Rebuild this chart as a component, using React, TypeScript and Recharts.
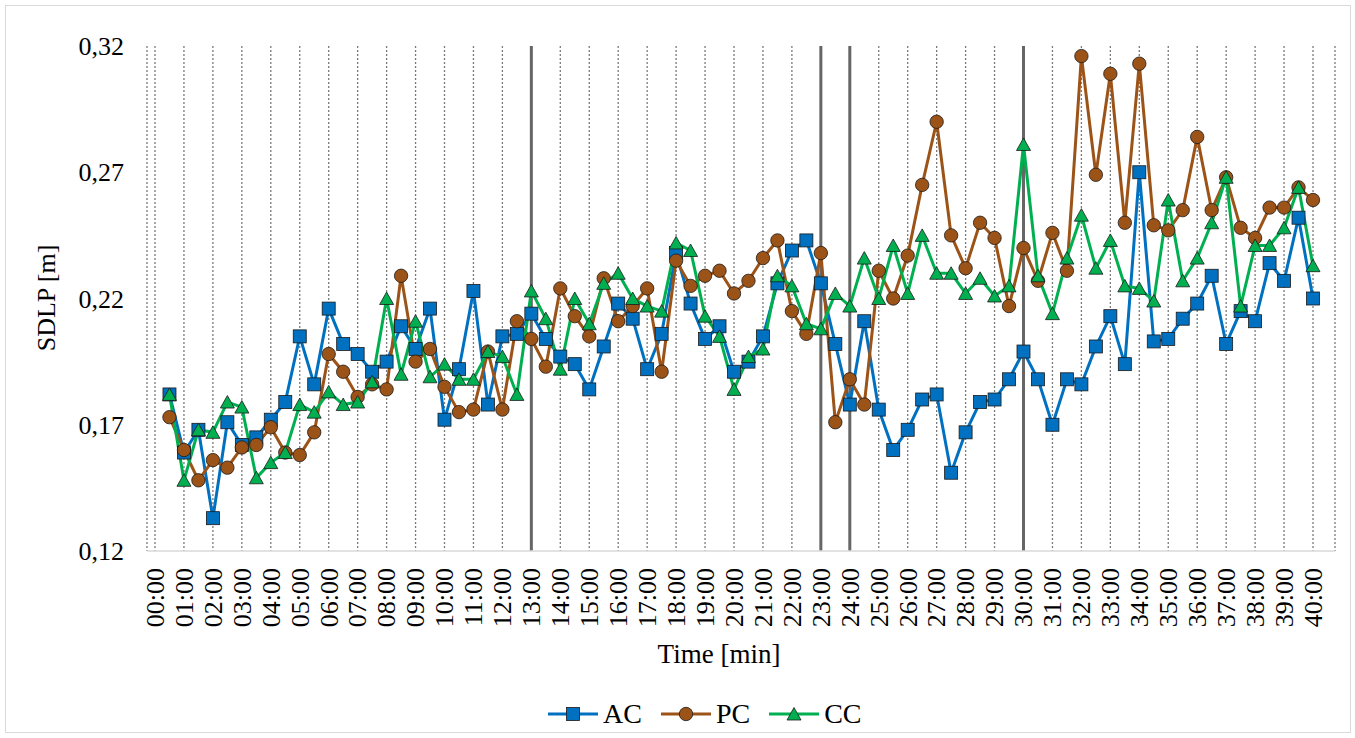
import React from 'react'
import { LineChart, Line, XAxis, YAxis, CartesianGrid, ReferenceLine, Legend } from 'recharts'

const FONT = '"Liberation Serif", "Times New Roman", serif'

// sample times, every 30 s
const times = [
  '00:30', '01:00', '01:30', '02:00', '02:30', '03:00', '03:30', '04:00', '04:30', '05:00',
  '05:30', '06:00', '06:30', '07:00', '07:30', '08:00', '08:30', '09:00', '09:30', '10:00',
  '10:30', '11:00', '11:30', '12:00', '12:30', '13:00', '13:30', '14:00', '14:30', '15:00',
  '15:30', '16:00', '16:30', '17:00', '17:30', '18:00', '18:30', '19:00', '19:30', '20:00',
  '20:30', '21:00', '21:30', '22:00', '22:30', '23:00', '23:30', '24:00', '24:30', '25:00',
  '25:30', '26:00', '26:30', '27:00', '27:30', '28:00', '28:30', '29:00', '29:30', '30:00',
  '30:30', '31:00', '31:30', '32:00', '32:30', '33:00', '33:30', '34:00', '34:30', '35:00',
  '35:30', '36:00', '36:30', '37:00', '37:30', '38:00', '38:30', '39:00', '39:30', '40:00',
]

const tickLabels = [
  '00:00', '01:00', '02:00', '03:00', '04:00', '05:00', '06:00', '07:00', '08:00', '09:00',
  '10:00', '11:00', '12:00', '13:00', '14:00', '15:00', '16:00', '17:00', '18:00', '19:00',
  '20:00', '21:00', '22:00', '23:00', '24:00', '25:00', '26:00', '27:00', '28:00', '29:00',
  '30:00', '31:00', '32:00', '33:00', '34:00', '35:00', '36:00', '37:00', '38:00', '39:00',
  '40:00',
]

const acValues = [
  0.182, 0.159, 0.168, 0.133, 0.171, 0.162, 0.165, 0.172, 0.179, 0.205,
  0.186, 0.216, 0.202, 0.198, 0.191, 0.195, 0.209, 0.200, 0.216, 0.172,
  0.192, 0.223, 0.178, 0.205, 0.206, 0.214, 0.204, 0.197, 0.194, 0.184,
  0.201, 0.218, 0.212, 0.192, 0.206, 0.238, 0.218, 0.204, 0.209, 0.191,
  0.195, 0.205, 0.226, 0.239, 0.243, 0.226, 0.202, 0.178, 0.211, 0.176,
  0.160, 0.168, 0.180, 0.182, 0.151, 0.167, 0.179, 0.180, 0.188, 0.199,
  0.188, 0.170, 0.188, 0.186, 0.201, 0.213, 0.194, 0.270, 0.203, 0.204,
  0.212, 0.218, 0.229, 0.202, 0.215, 0.211, 0.234, 0.227, 0.252, 0.220,
]

const pcValues = [
  0.173, 0.160, 0.148, 0.156, 0.153, 0.161, 0.162, 0.169, 0.159, 0.158,
  0.167, 0.198, 0.191, 0.181, 0.186, 0.184, 0.229, 0.195, 0.200, 0.185,
  0.175, 0.176, 0.199, 0.176, 0.211, 0.204, 0.193, 0.224, 0.213, 0.205,
  0.228, 0.211, 0.217, 0.224, 0.191, 0.235, 0.225, 0.229, 0.231, 0.222,
  0.227, 0.236, 0.243, 0.215, 0.206, 0.238, 0.171, 0.188, 0.178, 0.231,
  0.220, 0.237, 0.265, 0.290, 0.245, 0.232, 0.250, 0.244, 0.217, 0.240,
  0.227, 0.246, 0.231, 0.316, 0.269, 0.309, 0.250, 0.313, 0.249, 0.247,
  0.255, 0.284, 0.255, 0.268, 0.248, 0.244, 0.256, 0.256, 0.264, 0.259,
]

const ccValues = [
  0.182, 0.148, 0.168, 0.167, 0.179, 0.177, 0.149, 0.155, 0.159, 0.178,
  0.175, 0.183, 0.178, 0.179, 0.187, 0.220, 0.190, 0.211, 0.189, 0.194,
  0.188, 0.188, 0.199, 0.197, 0.182, 0.223, 0.212, 0.192, 0.220, 0.210,
  0.226, 0.230, 0.220, 0.217, 0.215, 0.242, 0.239, 0.213, 0.205, 0.184,
  0.197, 0.200, 0.229, 0.225, 0.210, 0.208, 0.222, 0.217, 0.236, 0.220,
  0.241, 0.222, 0.245, 0.230, 0.230, 0.222, 0.228, 0.221, 0.225, 0.281,
  0.229, 0.214, 0.236, 0.253, 0.232, 0.243, 0.225, 0.224, 0.219, 0.259,
  0.227, 0.236, 0.250, 0.268, 0.217, 0.241, 0.241, 0.248, 0.264, 0.233,
]

const phaseMarks = ['13:00', '23:00', '24:00', '30:00']
const yTicks = [0.12, 0.17, 0.22, 0.27, 0.32]

const toMinutes = (t: string) => {
  const [m, s] = t.split(':').map(Number)
  return m + s / 60
}

const tickValues = tickLabels.map(toMinutes)

const data = times.map((t, i) => ({
  min: toMinutes(t),
  AC: acValues[i],
  PC: pcValues[i],
  CC: ccValues[i],
}))

type Shape = 'square' | 'circle' | 'triangle'

const series: { key: string; color: string; shape: Shape }[] = [
  { key: 'AC', color: '#0070C0', shape: 'square' },
  { key: 'PC', color: '#9C5318', shape: 'circle' },
  { key: 'CC', color: '#00B050', shape: 'triangle' },
]

function Marker({ cx, cy, shape, color }: { cx: number; cy: number; shape: Shape; color: string }) {
  if (cx == null || cy == null) return null
  if (shape === 'square') {
    return <rect x={cx - 6.5} y={cy - 6.5} width={13} height={13} fill={color} stroke="#1a1a1a" strokeWidth={0.8} />
  }
  if (shape === 'circle') {
    return <circle cx={cx} cy={cy} r={6.7} fill={color} stroke="#1a1a1a" strokeWidth={0.8} />
  }
  return (
    <polygon
      points={`${cx},${cy - 6.5} ${cx + 7},${cy + 6} ${cx - 7},${cy + 6}`}
      fill={color}
      stroke="#1a1a1a"
      strokeWidth={0.8}
    />
  )
}

function XTick(props: any) {
  const { x, y, payload } = props
  const label = tickLabels[tickValues.indexOf(payload.value)]
  return (
    <text
      transform={`translate(${x},${y}) rotate(-90)`}
      textAnchor="end"
      dy="0.34em"
      fill="#000"
      fontFamily={FONT}
      fontSize={26}
    >
      {label}
    </text>
  )
}

function XTitle() {
  return (
    <text x={719} y={663} textAnchor="middle" fill="#000" fontFamily={FONT} fontSize={27}>
      Time [min]
    </text>
  )
}

function YTitle() {
  return (
    <text
      transform="translate(46,298) rotate(-90)"
      textAnchor="middle"
      dy="0.34em"
      fill="#000"
      fontFamily={FONT}
      fontSize={26}
    >
      SDLP [m]
    </text>
  )
}

function LegendBox() {
  return (
    <div
      style={{
        display: 'flex',
        alignItems: 'center',
        height: 36,
        paddingLeft: 548,
        fontFamily: FONT,
        fontSize: 28,
        color: '#000',
      }}
    >
      {series.map((s) => (
        <div key={s.key} style={{ display: 'flex', alignItems: 'center', marginRight: 19 }}>
          <svg width={50} height={20}>
            <line x1={0} x2={50} y1={10} y2={10} stroke={s.color} strokeWidth={3} />
            <Marker cx={25} cy={10} shape={s.shape} color={s.color} />
          </svg>
          <span style={{ marginLeft: 5 }}>{s.key}</span>
        </div>
      ))}
    </div>
  )
}

export default function App() {
  return (
    <div style={{ position: 'absolute', left: 0, top: 0, width: 1355, height: 738, background: '#fff' }}>
      <div
        style={{
          position: 'absolute',
          left: 5,
          top: 5,
          width: 1344,
          height: 726,
          border: '1.5px solid #d9d9d9',
          pointerEvents: 'none',
        }}
      />
      <LineChart
        width={1355}
        height={738}
        data={data}
        margin={{ top: 46, right: 20, left: 0, bottom: 31 }}
      >
        <CartesianGrid horizontal={false} stroke="#7a7a7a" strokeWidth={1.3} strokeDasharray="2 2" />
        <XAxis
          type="number"
          dataKey="min"
          domain={[0, 40]}
          ticks={tickValues}
          interval={0}
          padding={{ left: 8, right: 22 }}
          height={120}
          tickLine={false}
          tickMargin={11}
          axisLine={{ stroke: '#d9d9d9', strokeWidth: 1.5 }}
          tick={<XTick />}
          label={<XTitle />}
        />
        <YAxis
          domain={[0.12, 0.32]}
          ticks={yTicks}
          width={147}
          axisLine={false}
          tickLine={false}
          tickMargin={17}
          tickFormatter={(v: number) => v.toFixed(2).replace('.', ',')}
          tick={{ fill: '#000', fontFamily: FONT, fontSize: 26 }}
          label={<YTitle />}
        />
        {phaseMarks.map((t) => (
          <ReferenceLine key={t} x={toMinutes(t)} stroke="#666666" strokeWidth={3} />
        ))}
        {series.map((s) => (
          <Line
            key={s.key}
            type="linear"
            dataKey={s.key}
            stroke={s.color}
            strokeWidth={3}
            isAnimationActive={false}
            dot={(p: any) => (
              <Marker key={`${s.key}-${p.index}`} cx={p.cx} cy={p.cy} shape={s.shape} color={s.color} />
            )}
            activeDot={false}
          />
        ))}
        <Legend
          verticalAlign="bottom"
          content={<LegendBox />}
          wrapperStyle={{ top: 696, left: 0, width: 1355, height: 36 }}
        />
      </LineChart>
    </div>
  )
}
